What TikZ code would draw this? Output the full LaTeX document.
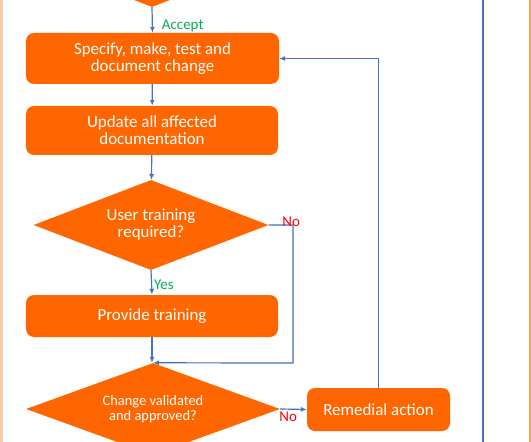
\documentclass[tikz,border=0pt]{standalone}
\usepackage{fontspec}
\setmainfont{Carlito}
\usetikzlibrary{shapes.geometric,arrows.meta}
\definecolor{boxorange}{HTML}{FF6600}
\definecolor{linkblue}{HTML}{4472C4}
\definecolor{yesgreen}{HTML}{00B050}
\definecolor{nored}{HTML}{FF0000}
\definecolor{frameleft}{HTML}{F8CBAD}
\definecolor{frameright}{HTML}{F4A460}
\begin{document}
\begin{tikzpicture}[x=1bp,y=-1bp,
    stepbox/.style={rectangle,rounded corners=8bp,fill=boxorange,text=white,
        align=center,inner sep=0pt,font=\fontsize{17}{17}\selectfont},
    decision/.style={diamond,fill=boxorange,inner sep=0pt},
    asks/.style={text=white,align=center,inner sep=0pt,font=\fontsize{17}{17}\selectfont},
    link/.style={draw=linkblue,line width=1.2bp,-{Latex[length=6bp,width=5bp]}},
    tag/.style={font=\fontsize{15}{15}\selectfont,inner sep=0pt}]
                \useasboundingbox (0,0) rectangle (531,442);
                \draw[frameleft,line width=2bp] (1.5,-5) -- (1.5,450);
                \draw[frameright,line width=1.5bp] (530,-5) -- (530,450);
                \node[decision,minimum width=235bp,minimum height=90bp] (review) at (152,-38) {};
                \node[stepbox,minimum width=253bp,minimum height=51bp] (spec) at (152.5,58.5) {Specify, make, test and\\document change};
                \node[stepbox,minimum width=252bp,minimum height=49bp] (update) at (152,130.5) {Update all affected\\documentation};
                \node[decision,minimum width=235bp,minimum height=90bp] (training) at (151,225) {};
                \node[asks] at (training) {User training\\required?};
                \node[stepbox,minimum width=252bp,minimum height=42bp] (provide) at (152,316) {Provide training};
                \node[decision,minimum width=254bp,minimum height=92bp] (valid) at (153,409) {};
                \node[asks,font=\fontsize{14.5}{15}\selectfont] at (valid) {Change validated\\and approved?};
                \node[stepbox,minimum width=143bp,minimum height=43bp] (remedial) at (378.5,409.5) {Remedial action};
                \coordinate (nojoin) at (293,363);
                \coordinate (farTop) at (483,-5);
                \coordinate (farBot) at (483,450);
                \draw[link] (review.south) -- node[tag,text=yesgreen,anchor=west,pos=0.75,xshift=9bp] {Accept} (spec.north);
                \draw[link] (spec) -- (update);
                \draw[link] (update) -- (training);
                \draw[link] (training.south) -- node[tag,text=yesgreen,anchor=west,pos=0.6,xshift=2bp] {Yes} (provide.north);
                \draw[link] (provide.south) -- (provide.south |- valid.north);
                \draw[link] (training.east) -- node[tag,text=nored,anchor=south west,pos=0.5,xshift=1bp,yshift=-2bp] {No} (training.east -| nojoin) -- (nojoin) -- (valid.north);
                \draw[link] (valid.east) -- node[tag,text=nored,anchor=north,pos=0.3,yshift=-2bp] {No} (remedial.west);
                \draw[link] (remedial.north) |- (spec.east);
                \draw[linkblue,line width=1.2bp] (farTop) -- (farBot);
\end{tikzpicture}
\end{document}
